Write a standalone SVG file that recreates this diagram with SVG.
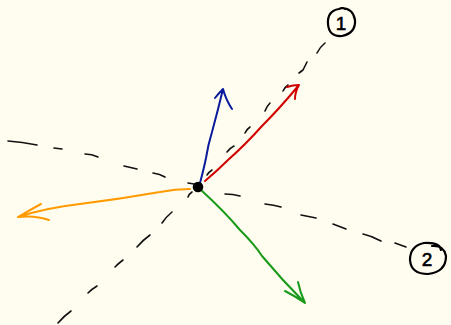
<svg xmlns="http://www.w3.org/2000/svg" width="451" height="325" viewBox="0 0 451 325">
<style>
.dash{fill:none;stroke:#111;stroke-width:1.6;stroke-linecap:round}
.arr{fill:none;stroke-width:2;stroke-linecap:round;stroke-linejoin:round}
.ring{fill:none;stroke:#000;stroke-width:2.2;stroke-linecap:round}
.lbl{font-family:"Liberation Sans",Arial,sans-serif;font-size:19px;fill:#000;stroke:#000;stroke-width:0.6;text-anchor:middle}
</style>
<rect width="451" height="325" fill="#fffdf0"/>
<g id="connectors">
<path class="dash" d="M58,323 Q64,316 71,311 M88,293 Q92,289 97,286 M115,267 Q119,263 123,260 M137,247 Q143,240 150,235 M162,223 Q166,217 172,212 M188,197 Q189,194 192,192 M207,175 Q209,172 212,170 M227,152 Q230,148 234,146 M245,133 Q247,129 250,127 M265,111 Q267,106 270,103 M283,91 Q285,87 288,85 M299,73 L303,70 M303,70 L307,62 M317,53 Q320,47 325,43"/>
<path class="dash" d="M8,141 Q22,142 37,145 M54,148 L62,149 M85,154 Q92,154 98,157 M124,166 L137,169 M153,173 Q160,174 165,177 M188,183 L194,184 M225,194 Q233,194 240,196 M265,204 Q274,205 281,207 M301,215 L316,218 M333,224 L346,229 M363,234 Q372,236 381,241 M395,243 L406,247"/>
<path class="arr" stroke="#0a1a9c" d="M200,183 Q204,168 206,158 Q208,145 212,132 Q218,110 223,89 M215,98 Q219,93 223,89 Q226,100 232,109"/>
<path class="arr" stroke="#d00000" d="M205,181 Q218,170 228,160 Q245,145 262,126 Q280,108 299,85 M287,87 Q293,85 299,85 Q295,92 295,99"/>
<path class="arr" stroke="#ff9a00" d="M190,189 Q175,189 160,192 Q120,199 80,204 Q45,208 18,217 M41,204 Q30,210 18,217 Q35,215 49,220"/>
<path class="arr" stroke="#1a9a1a" d="M201,190 Q225,212 240,230 Q255,245 262,256 Q282,280 305,303 M298,282 Q300,292 305,303 Q295,296 285,291"/>
</g>
<g id="origin"><circle cx="198" cy="187" r="5.3" fill="#000"/></g>
<g id="label1">
<path class="ring" d="M341,8 Q353,8 355,20 Q356,33 342,36 Q329,37 328,24 Q327,11 339,9 Q343,7 345,9"/>
<text class="lbl" x="341" y="30">1</text>
</g>
<g id="label2">
<path class="ring" d="M432,246 Q444,245 446,256 Q446,272 428,274 Q411,274 410,260 Q410,246 424,243 Q440,242 441,250"/>
<text class="lbl" x="427" y="266">2</text>
</g>
</svg>
